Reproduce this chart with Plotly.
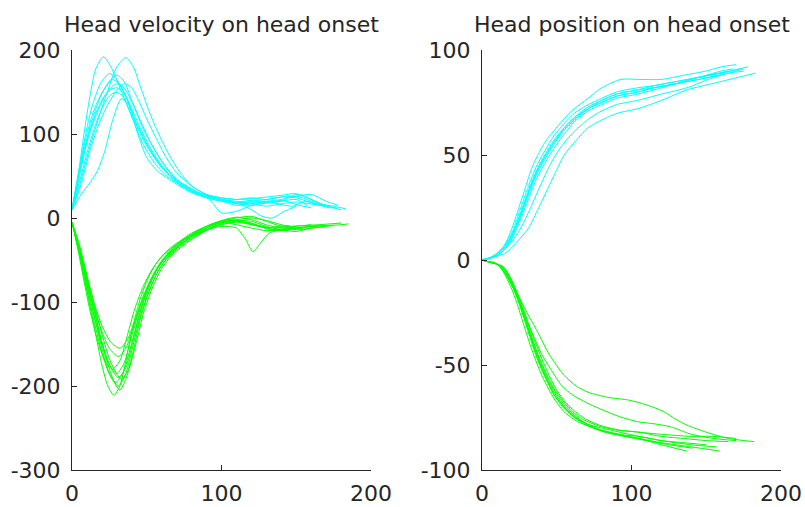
import plotly.graph_objects as go

# ---------------- data ----------------
vel_cyan_x = [
    [0, 4, 8, 12, 16, 21, 26, 32, 38, 45, 52, 60, 70, 80, 90, 100, 110, 120, 130, 140, 150, 160],
    [0, 6, 12, 18, 24, 30, 36, 41, 46, 52, 58, 65, 72, 80, 90, 100, 110, 120, 130, 140, 150, 158, 166, 175, 183],
    [0, 5, 10, 15, 20, 25, 30, 35, 40, 46, 52, 60, 70, 80, 90, 100, 110, 120, 130, 140, 150, 160, 170],
    [0, 5, 10, 15, 21, 27, 32, 38, 45, 52, 60, 70, 80, 90, 100, 110, 120, 130, 140, 150, 165],
    [0, 5, 10, 16, 22, 27, 31, 36, 42, 48, 55, 62, 70, 80, 90, 100, 110, 120, 130, 140, 150, 160, 168, 176],
    [0, 5, 10, 16, 22, 26, 30, 35, 40, 45, 52, 60, 70, 80, 92, 100, 110, 120, 130, 140, 150, 158],
    [0, 6, 12, 18, 24, 29, 34, 40, 47, 55, 62, 70, 80, 90, 100, 110, 120, 127, 134, 142, 150],
    [0, 6, 12, 17, 22, 27, 33, 38, 44, 50, 57, 65, 72, 80, 90, 100, 110, 120, 130, 140, 150, 160, 170, 180],
    [0, 4, 8, 13, 19, 25, 30, 36, 42, 49, 56, 64, 72, 80, 90, 100, 110, 120, 130, 140, 150, 160, 170, 178],
    [0, 6, 12, 18, 24, 30, 35, 40, 45, 50, 56, 63, 70, 80, 90, 100, 110, 120, 130, 140, 148, 156, 165, 172],
]
vel_cyan_y = [
    [10, 50, 100, 145, 178, 192, 180, 155, 130, 105, 82, 62, 43, 31, 25, 22, 19, 21, 18, 21, 16, 12],
    [10, 45, 85, 120, 152, 180, 191, 180, 155, 125, 100, 75, 55, 38, 28, 24, 22, 23, 25, 27, 29, 24, 17, 14, 11],
    [10, 55, 95, 125, 148, 163, 170, 162, 140, 115, 92, 68, 46, 33, 26, 22, 18, 20, 22, 25, 24, 18, 13],
    [10, 60, 100, 130, 152, 165, 158, 138, 110, 85, 62, 44, 32, 24, 20, 15, 17, 14, 17, 19, 15],
    [10, 50, 90, 122, 145, 157, 160, 152, 130, 105, 82, 62, 46, 34, 27, 21, 17, 15, 18, 20, 28, 22, 16, 12],
    [10, 55, 92, 125, 146, 153, 155, 148, 125, 102, 80, 60, 45, 35, 22, 6, 8, 15, 18, 20, 22, 14],
    [10, 50, 90, 122, 143, 150, 145, 120, 90, 66, 52, 42, 32, 26, 22, 18, 10, 2, 0, 8, 14],
    [10, 28, 42, 56, 80, 115, 142, 135, 100, 72, 56, 46, 38, 30, 24, 20, 18, 17, 20, 22, 26, 20, 14, 10],
    [10, 45, 90, 130, 160, 172, 165, 145, 118, 92, 70, 52, 40, 32, 27, 24, 22, 24, 22, 25, 26, 28, 20, 15],
    [10, 40, 80, 112, 135, 152, 160, 155, 138, 118, 96, 72, 54, 38, 28, 22, 20, 18, 20, 16, 14, 20, 16, 12],
]

vel_green_x = [
    [0, 4, 8, 12, 16, 20, 24, 28, 32, 36, 40, 45, 50, 56, 63, 70, 80, 90, 100, 110, 120, 130, 140, 150, 160, 170, 180, 185],
    [0, 5, 10, 15, 20, 25, 31, 36, 41, 46, 52, 58, 65, 72, 80, 90, 100, 110, 120, 130, 140, 150, 160, 170, 175],
    [0, 5, 10, 15, 20, 25, 29, 34, 39, 45, 51, 57, 64, 72, 80, 90, 100, 110, 120, 130, 140, 150, 160, 170],
    [0, 5, 10, 15, 20, 26, 31, 36, 41, 46, 52, 58, 65, 72, 80, 90, 100, 110, 116, 121, 126, 132, 140, 150, 160, 165],
    [0, 5, 10, 15, 20, 25, 30, 35, 40, 46, 52, 58, 65, 72, 80, 90, 100, 110, 120, 130, 140, 150, 160],
    [0, 5, 10, 15, 20, 25, 31, 36, 41, 46, 52, 58, 65, 72, 80, 90, 100, 110, 120, 130, 140, 155],
    [0, 5, 10, 15, 20, 26, 32, 37, 42, 47, 53, 60, 68, 76, 85, 95, 105, 115, 125, 135, 145, 150],
    [0, 4, 8, 12, 17, 22, 27, 32, 37, 42, 48, 54, 60, 68, 76, 85, 95, 105, 115, 125, 135, 145, 155, 165, 180],
    [0, 5, 10, 15, 20, 25, 29, 32, 36, 41, 46, 52, 58, 65, 72, 80, 90, 100, 110, 120, 130, 140, 150, 160, 168],
    [0, 5, 10, 15, 20, 26, 33, 38, 43, 48, 54, 60, 67, 75, 83, 92, 100, 110, 120, 130, 138, 145],
]
vel_green_y = [
    [-5, -35, -70, -105, -140, -175, -200, -211, -200, -170, -135, -100, -75, -55, -40, -30, -20, -12, -5, -2, 0, -3, -8, -12, -10, -9, -8, -7],
    [-5, -40, -80, -118, -155, -185, -200, -185, -150, -115, -85, -62, -45, -33, -22, -12, -4, 0, 2, -4, -10, -14, -12, -10, -9],
    [-5, -42, -85, -125, -160, -186, -196, -185, -155, -115, -82, -60, -44, -32, -22, -14, -6, -3, -4, -10, -14, -16, -12, -10],
    [-5, -38, -76, -112, -148, -178, -190, -178, -145, -110, -80, -58, -43, -32, -22, -14, -10, -12, -25, -40, -30, -18, -14, -12, -10, -9],
    [-5, -40, -80, -118, -150, -175, -185, -172, -140, -105, -78, -57, -42, -30, -20, -10, -3, 1, -2, -8, -12, -10, -8],
    [-5, -38, -75, -108, -135, -155, -165, -155, -130, -102, -76, -56, -40, -28, -18, -10, -5, -8, -12, -15, -14, -12],
    [-5, -35, -70, -102, -128, -148, -155, -145, -122, -96, -72, -52, -36, -25, -16, -8, -3, -5, -10, -14, -12, -10],
    [-5, -38, -75, -110, -145, -170, -180, -170, -140, -108, -80, -60, -46, -34, -24, -14, -6, -2, -5, -9, -12, -10, -9, -8, -6],
    [-5, -35, -72, -110, -148, -180, -198, -205, -192, -158, -118, -85, -62, -45, -34, -24, -15, -8, -5, -8, -12, -15, -12, -10, -9],
    [-5, -32, -68, -104, -138, -172, -192, -180, -148, -112, -82, -60, -44, -32, -22, -13, -7, -4, -6, -12, -10, -9],
]

pos_cyan_x = [
    [0, 5, 10, 15, 20, 27, 34, 42, 51, 60, 71, 80, 93, 105, 120, 135, 150, 160, 170],
    [0, 5, 10, 15, 20, 25, 31, 38, 44, 50, 55, 63, 71, 81, 91, 104, 120, 137, 160, 183],
    [0, 5, 10, 15, 20, 25, 30, 35, 40, 46, 52, 60, 71, 80, 90, 104, 120, 137, 155, 175],
    [0, 5, 10, 15, 20, 25, 30, 36, 42, 48, 55, 62, 71, 80, 90, 104, 115, 130, 145, 160, 168],
    [0, 5, 10, 15, 20, 25, 30, 36, 42, 48, 55, 62, 71, 80, 90, 104, 115, 130, 145, 160, 172],
    [0, 5, 10, 15, 20, 25, 30, 36, 42, 48, 55, 62, 71, 80, 90, 104, 115, 130, 145, 160, 178],
    [0, 5, 10, 15, 20, 25, 30, 36, 42, 48, 55, 62, 71, 80, 90, 104, 115, 130, 145, 165],
    [0, 5, 10, 15, 20, 25, 30, 36, 42, 48, 55, 62, 71, 80, 90, 104, 115, 130, 145, 160],
    [0, 5, 10, 15, 20, 25, 30, 36, 42, 48, 55, 62, 71, 80, 90, 104, 115, 130, 145, 165, 175],
]
pos_cyan_y = [
    [0, 1, 3, 7, 15, 30, 45, 56, 64, 71, 77, 82, 86, 86, 86, 88, 90, 92, 93],
    [0, 0.5, 2, 3, 6, 10, 15, 25, 34, 43, 50, 57, 63, 67, 70, 72, 76, 81, 85, 89],
    [0, 1, 2, 5, 9, 14, 21, 29, 37, 46, 53, 60, 67, 71, 74, 76, 79, 82, 87, 91],
    [0, 1, 3, 6, 12, 21, 31, 42, 50, 57, 63, 68, 73, 76, 79, 81, 83, 85, 87, 90, 91],
    [0, 1, 2, 5, 11, 19, 29, 40, 48, 55, 62, 67, 72, 75, 78, 80, 82, 84, 87, 89, 91],
    [0, 1, 3, 7, 13, 23, 33, 44, 52, 59, 65, 70, 74, 77, 80, 82, 83, 85, 87, 89, 92],
    [0, 1, 2, 5, 10, 18, 27, 38, 46, 53, 60, 66, 71, 74, 77, 79, 81, 84, 87, 90],
    [0, 1, 3, 6, 12, 20, 30, 41, 49, 56, 63, 68, 72, 76, 79, 81, 82, 84, 86, 88],
    [0, 1, 2, 5, 11, 20, 30, 41, 49, 56, 62, 67, 72, 75, 78, 80, 82, 84, 86, 89, 90],
]

pos_green_x = [
    [0, 5, 8, 12, 16, 20, 24, 28, 32, 36, 40, 45, 50, 56, 64, 75, 90, 105, 120, 140, 159],
    [0, 5, 10, 14, 18, 22, 26, 30, 34, 38, 43, 48, 54, 60, 68, 78, 90, 105, 120, 140, 157],
    [0, 5, 10, 14, 18, 22, 26, 30, 34, 38, 43, 48, 54, 60, 68, 78, 90, 105, 120, 140, 155, 170],
    [0, 5, 10, 15, 19, 23, 27, 31, 35, 39, 44, 49, 55, 62, 70, 80, 92, 105, 120, 137],
    [0, 5, 10, 15, 20, 24, 28, 32, 36, 40, 45, 50, 56, 63, 72, 82, 95, 110, 125, 141],
    [0, 5, 10, 15, 20, 25, 30, 35, 40, 45, 50, 56, 62, 70, 80, 92, 105, 120, 135, 150, 165],
    [0, 5, 10, 15, 20, 25, 30, 35, 40, 45, 50, 56, 62, 70, 80, 92, 105, 120, 135, 150],
    [0, 5, 10, 15, 20, 25, 30, 37, 45, 55, 63, 71, 85, 98, 110, 121, 130, 137, 150, 165, 182],
    [0, 5, 10, 15, 20, 25, 30, 35, 40, 46, 53, 60, 70, 78, 92, 104, 115, 126, 140, 155, 170],
]
pos_green_y = [
    [0, -1, -1, -3, -8, -14, -22, -31, -40, -48, -55, -62, -68, -73, -77, -80, -83, -85, -87, -89, -91],
    [0, -1, -2, -4, -9, -15, -23, -32, -41, -49, -57, -64, -70, -74, -78, -81, -83, -84, -86, -88, -89],
    [0, -1, -2, -3, -7, -13, -21, -29, -38, -46, -54, -61, -67, -72, -76, -79, -81, -82, -83, -84, -84, -85],
    [0, -1, -2, -4, -9, -16, -24, -33, -42, -50, -58, -65, -70, -75, -78, -81, -83, -85, -88, -91],
    [0, -1, -2, -5, -11, -18, -27, -35, -44, -51, -59, -65, -71, -75, -79, -82, -84, -86, -88, -89.6],
    [0, -1, -2, -4, -10, -18, -28, -38, -47, -55, -62, -68, -72, -76, -79, -81, -82, -84, -85, -86, -86.5],
    [0, -1, -2, -5, -12, -21, -31, -41, -50, -58, -64, -70, -74, -78, -80, -82, -84, -86, -87, -88],
    [0, -1, -2, -6, -12, -18, -25, -34, -45, -55, -60, -63, -65.5, -66.7, -69, -72, -76, -78.6, -82, -85, -86.5],
    [0, -1, -2, -6, -12, -20, -29, -37, -45, -52, -59.5, -64, -68, -70.6, -74.6, -77, -78, -79.4, -83, -85, -86],
]

titles = ["Head velocity on head onset", "Head position on head onset"]
x_ticks = [0, 100, 200]
x_ticktext = ["0", "100", "200"]
vel_ticks = [-300, -200, -100, 0, 100, 200]
vel_ticktext = ["-300", "-200", "-100", "0", "100", "200"]
pos_ticks = [-100, -50, 0, 50, 100]
pos_ticktext = ["-100", "-50", "0", "50", "100"]

CYAN = "#00FFFF"
GREEN = "#00FF00"
INK = "#262626"
FONT = "DejaVu Sans"

fig = go.Figure()


def add_group(xs, ys, color, xa, ya):
    for x, y in zip(xs, ys):
        fig.add_trace(go.Scatter(
            x=x, y=y, mode="lines", xaxis=xa, yaxis=ya,
            line=dict(color=color, width=1, shape="spline", smoothing=0.7),
            showlegend=False, hoverinfo="skip"))


add_group(vel_cyan_x, vel_cyan_y, CYAN, "x", "y")
add_group(vel_green_x, vel_green_y, GREEN, "x", "y")
add_group(pos_cyan_x, pos_cyan_y, CYAN, "x2", "y2")
add_group(pos_green_x, pos_green_y, GREEN, "x2", "y2")

W, H = 805, 507
dom1 = [72 / W, 371 / W]
dom2 = [482 / W, 781 / W]
ydom = [(H - 470) / H, (H - 50) / H]

axis_common = dict(
    showline=True, linecolor=INK, linewidth=1, mirror=False,
    ticks="inside", ticklen=5, tickwidth=1, tickcolor=INK,
    showgrid=False, zeroline=False, automargin=False,
    tickfont=dict(family=FONT, size=22, color=INK),
)

fig.update_layout(
    template="none",
    width=W, height=H,
    margin=dict(l=0, r=0, t=0, b=0, pad=0),
    paper_bgcolor="white", plot_bgcolor="white",
    xaxis=dict(domain=dom1, range=[0, 200], tickvals=x_ticks, ticktext=x_ticktext,
               anchor="y", ticklabelstandoff=4, **axis_common),
    yaxis=dict(domain=ydom, range=[-300, 200], tickvals=vel_ticks, ticktext=vel_ticktext,
               anchor="x", ticklabelstandoff=6, **axis_common),
    xaxis2=dict(domain=dom2, range=[0, 200], tickvals=x_ticks, ticktext=x_ticktext,
                anchor="y2", ticklabelstandoff=4, **axis_common),
    yaxis2=dict(domain=ydom, range=[-100, 100], tickvals=pos_ticks, ticktext=pos_ticktext,
                anchor="x2", ticklabelstandoff=6, **axis_common),
    annotations=[
        dict(text=titles[0], x=sum(dom1) / 2, y=1 - 24 / H, xref="paper", yref="paper",
             xanchor="center", yanchor="middle", showarrow=False,
             font=dict(family=FONT, size=22, color=INK)),
        dict(text=titles[1], x=sum(dom2) / 2, y=1 - 24 / H, xref="paper", yref="paper",
             xanchor="center", yanchor="middle", showarrow=False,
             font=dict(family=FONT, size=22, color=INK)),
    ],
)

fig.write_html("out.html")
